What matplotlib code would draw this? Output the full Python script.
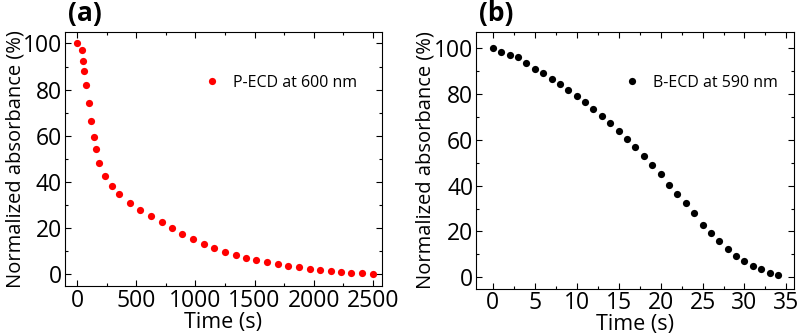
import matplotlib.pyplot as plt
from matplotlib.ticker import MultipleLocator

plt.rcParams['font.family'] = ['Open Sans', 'DejaVu Sans']

# panel (a): P-ECD bleaching at 600 nm
time_a = [0, 37, 48, 59, 76, 96, 116, 139, 158, 183, 236, 295, 355, 445, 532,
          623, 716, 800, 890, 980, 1070, 1158, 1250, 1340, 1430, 1515, 1605,
          1695, 1785, 1875, 1966, 2056, 2143, 2233, 2320, 2410, 2500]
abs_a = [100, 97.0, 92.4, 87.9, 82.0, 74.3, 66.4, 59.6, 54.3, 48.3, 42.6, 38.2,
         34.7, 30.8, 27.7, 25.1, 22.5, 19.9, 17.4, 15.3, 13.2, 11.4, 9.9, 8.5,
         7.2, 6.2, 5.2, 4.3, 3.6, 3.0, 2.4, 1.8, 1.4, 1.0, 0.6, 0.4, 0.1]

# panel (b): B-ECD bleaching at 590 nm
time_b = list(range(35))
abs_b = [100, 98.5, 97.2, 96.1, 93.4, 91.0, 89.2, 86.7, 84.3, 81.9, 79.2, 76.4,
         73.5, 70.4, 67.2, 63.7, 60.4, 56.8, 53.0, 49.2, 45.0, 40.2, 36.5, 32.2,
         27.9, 23.0, 19.3, 15.7, 12.2, 9.2, 7.1, 5.1, 3.5, 2.0, 1.0]

fig = plt.figure(figsize=(8, 3.36), dpi=100)
ax1 = fig.add_axes([0.081, 0.149, 0.396, 0.756])
ax2 = fig.add_axes([0.595, 0.141, 0.3975, 0.763])


def style(ax, xmaj, xmin, tag, ylab_x, xlab_y, leg_anchor):
    ax.xaxis.set_major_locator(MultipleLocator(xmaj))
    ax.xaxis.set_minor_locator(MultipleLocator(xmin))
    ax.yaxis.set_major_locator(MultipleLocator(20))
    ax.yaxis.set_minor_locator(MultipleLocator(10))
    ax.tick_params(which='both', direction='in', top=True, right=True,
                   labeltop=False, labelright=False, width=0.8)
    ax.tick_params(which='major', length=4, labelsize=16.5)
    ax.tick_params(axis='x', which='major', pad=2)
    ax.tick_params(axis='y', which='major', pad=2)
    ax.tick_params(which='minor', length=2)
    for s in ax.spines.values():
        s.set_linewidth(0.8)
    xl = ax.set_xlabel('Time (s)', fontsize=15.5)
    xl.set_va('center')
    ax.xaxis.set_label_coords(0.5, xlab_y)
    yl = ax.set_ylabel('Normalized absorbance (%)', fontsize=14.5)
    yl.set_va('center')
    ax.yaxis.set_label_coords(ylab_x, 0.5)
    ax.text(0.01, 1.02, tag, transform=ax.transAxes, fontsize=19,
            fontweight='bold', ha='left', va='bottom')
    ax.legend(loc='center left', bbox_to_anchor=leg_anchor,
              frameon=False, fontsize=11.5, handletextpad=0.7,
              borderaxespad=0, handlelength=1.2)


ax1.plot(time_a, abs_a, 'o', color='#ff0000', ms=5.2, mec='none',
         label='P-ECD at 600 nm')
ax1.set_xlim(-105, 2575)
ax1.set_ylim(-5, 105)
style(ax1, 500, 250, '(a)', -0.155, -0.142, (0.415, 0.80))

ax2.plot(time_b, abs_b, 'o', color='black', ms=5.2, mec='none',
         label='B-ECD at 590 nm')
ax2.set_xlim(-2, 35.9)
ax2.set_ylim(-5, 107)
style(ax2, 5, 2.5, '(b)', -0.16, -0.138, (0.44, 0.803))

fig.savefig('out.png', dpi=100)
